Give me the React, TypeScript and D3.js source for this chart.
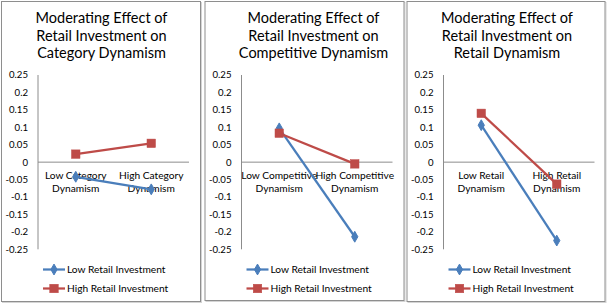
import React from "react";
import * as d3 from "d3";

// ---- data ----
const yTicks = [0.25, 0.2, 0.15, 0.1, 0.05, 0, -0.05, -0.1, -0.15, -0.2, -0.25];
const seriesNames = ["Low Retail Investment", "High Retail Investment"];

const titles1 = ["Moderating Effect of", "Retail Investment on", "Category Dynamism"];
const categories1 = ["Low Category Dynamism", "High Category Dynamism"];
const catLines1 = [["Low Category", "Dynamism"], ["High Category", "Dynamism"]];
const lowInv1 = [-0.042, -0.078];
const highInv1 = [0.023, 0.054];

const titles2 = ["Moderating Effect of", "Retail Investment on", "Competitive Dynamism"];
const categories2 = ["Low Competitive Dynamism", "High Competitive Dynamism"];
const catLines2 = [["Low Competitive", "Dynamism"], ["High Competitive", "Dynamism"]];
const lowInv2 = [0.097, -0.214];
const highInv2 = [0.083, -0.005];

const titles3 = ["Moderating Effect of", "Retail Investment on", "Retail Dynamism"];
const categories3 = ["Low Retail Dynamism", "High Retail Dynamism"];
const catLines3 = [["Low Retail", "Dynamism"], ["High Retail", "Dynamism"]];
const lowInv3 = [0.106, -0.225];
const highInv3 = [0.14, -0.063];

// ---- style ----
const FONT = "Lato, 'Open Sans', sans-serif";
const BLUE = "#4a7ebb";
const RED = "#be4b48";
const AXIS = "#8c8c8c";

type PanelProps = {
  x0: number;
  x1: number;
  bottom: number;
  titleCx: number;
  titles: string[];
  categories: string[];
  catLines: string[][];
  low: number[];
  high: number[];
};

function Panel({ x0, x1, bottom, titleCx, titles, categories, catLines, low, high }: PanelProps) {
  const axisX = x0 + 37;
  const rightX = x0 + 188;
  const y = d3.scaleLinear().domain([-0.25, 0.25]).range([249.3, 75]);
  const xb = d3.scaleBand<string>().domain(categories).range([axisX, rightX]).padding(0);
  const cx = (c: string) => (xb(c) as number) + xb.bandwidth() / 2;
  const line = d3
    .line<number>()
    .x((_, i) => cx(categories[i]))
    .y((d) => y(d));
  const diamond = d3.symbol().type(d3.symbolDiamond).size(34)();
  const sq = 8.5;
  const legendX = x0 + 42;
  const legendLen = 22;
  return (
    <g>
      <rect x={x0 + 1.5} y={2.5} width={x1 - x0} height={bottom - 2} fill="none" stroke="#d4d4d4" strokeWidth={1} />
      <rect x={x0 + 0.5} y={1.5} width={x1 - x0} height={bottom - 2} fill="#fff" stroke="#8e8e8e" strokeWidth={1} />
      {titles.map((t, i) => (
        <text key={i} x={titleCx} y={23.3 + i * 17.2} textAnchor="middle" fontSize={14.5} fill="#000" fontFamily={FONT}>
          {t}
        </text>
      ))}
      {yTicks.map((t) => (
        <text key={t} x={x0 + 27} y={y(t)} dy="0.35em" textAnchor="end" fontSize={9.6} fill="#000" fontFamily={FONT}>
          {t === 0 ? "0" : String(t)}
        </text>
      ))}
      <line x1={axisX} x2={axisX} y1={y(0.25)} y2={y(-0.25)} stroke={AXIS} strokeWidth={1} />
      <line x1={axisX} x2={rightX} y1={y(0)} y2={y(0)} stroke={AXIS} strokeWidth={1} />
      {categories.map((c, i) =>
        catLines[i].map((l, j) => (
          <text key={c + j} x={cx(c)} y={y(0) + 17 + j * 12.7} textAnchor="middle" fontSize={10.2} fill="#000" fontFamily={FONT}>
            {l}
          </text>
        ))
      )}
      <path d={line(low) || ""} fill="none" stroke={BLUE} strokeWidth={2.25} />
      {low.map((v, i) => (
        <path key={"l" + i} d={diamond} transform={`translate(${cx(categories[i])},${y(v)})`} fill={BLUE} stroke={BLUE} />
      ))}
      <path d={line(high) || ""} fill="none" stroke={RED} strokeWidth={2.25} />
      {high.map((v, i) => (
        <rect key={"h" + i} x={cx(categories[i]) - sq / 2} y={y(v) - sq / 2} width={sq} height={sq} fill={RED} stroke={RED} strokeWidth={0.5} />
      ))}
      {/* legend */}
      <line x1={legendX} x2={legendX + legendLen} y1={269.5} y2={269.5} stroke={BLUE} strokeWidth={2.25} />
      <path d={diamond} transform={`translate(${legendX + legendLen / 2},269.5)`} fill={BLUE} stroke={BLUE} />
      <text x={legendX + legendLen + 2} y={269.5} dy="0.35em" fontSize={10.2} fill="#000" fontFamily={FONT}>
        {seriesNames[0]}
      </text>
      <line x1={legendX} x2={legendX + legendLen} y1={288.5} y2={288.5} stroke={RED} strokeWidth={2.25} />
      <rect x={legendX + legendLen / 2 - sq / 2} y={288.5 - sq / 2} width={sq} height={sq} fill={RED} stroke={RED} strokeWidth={0.5} />
      <text x={legendX + legendLen + 2} y={288.5} dy="0.35em" fontSize={10.2} fill="#000" fontFamily={FONT}>
        {seriesNames[1]}
      </text>
    </g>
  );
}

export default function App() {
  return (
    <svg
      width={609}
      height={306}
      style={{ position: "absolute", left: 0, top: 0, display: "block", background: "#fff" }}
    >
      <rect x={0} y={0} width={609} height={306} fill="#fff" />
      <Panel x0={1} x1={200} bottom={302} titleCx={101.5} titles={titles1} categories={categories1} catLines={catLines1} low={lowInv1} high={highInv1} />
      <Panel x0={204.5} x1={403.5} bottom={301} titleCx={313.5} titles={titles2} categories={categories2} catLines={catLines2} low={lowInv2} high={highInv2} />
      <Panel x0={406.5} x1={604.5} bottom={302} titleCx={507} titles={titles3} categories={categories3} catLines={catLines3} low={lowInv3} high={highInv3} />
    </svg>
  );
}
